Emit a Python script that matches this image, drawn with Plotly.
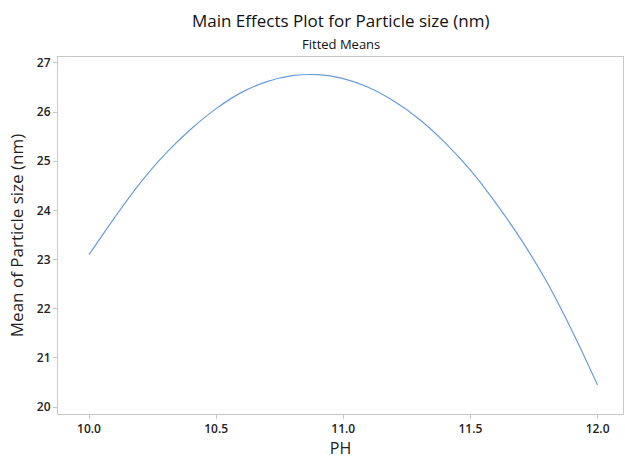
import plotly.graph_objects as go

ph = [10.0, 10.1, 10.2, 10.3, 10.4, 10.5, 10.6, 10.7, 10.8, 10.9, 11.0,
      11.1, 11.2, 11.3, 11.4, 11.5, 11.6, 11.7, 11.8, 11.9, 12.0]
mean_size = [23.10, 23.85, 24.55, 25.15, 25.65, 26.07, 26.40, 26.62, 26.74, 26.76, 26.68,
             26.50, 26.22, 25.85, 25.38, 24.82, 24.15, 23.40, 22.55, 21.55, 20.45]

x_ticks = [10.0, 10.5, 11.0, 11.5, 12.0]
x_ticklabels = ["10.0", "10.5", "11.0", "11.5", "12.0"]
y_ticks = [20, 21, 22, 23, 24, 25, 26, 27]

FONT = "Open Sans"

fig = go.Figure()
fig.add_trace(go.Scatter(x=ph, y=mean_size, mode="lines", line=dict(color="#6b9bd6", width=1.2, shape="spline"),
                         showlegend=False, hoverinfo="skip"))

fig.update_layout(
    width=625, height=459,
    margin=dict(l=58, r=2, t=57, b=45),
    paper_bgcolor="white", plot_bgcolor="white",
    font=dict(family=FONT, color="#222222"),
    annotations=[
        dict(text="Main Effects Plot for Particle size (nm)", x=0.5, y=1.0, xref="paper", yref="paper",
             yshift=23, xanchor="center", yanchor="bottom", showarrow=False,
             font=dict(family=FONT, size=17, color="#111111", weight=500)),
        dict(text="Fitted Means", x=0.5, y=1.0, xref="paper", yref="paper",
             yshift=2, xanchor="center", yanchor="bottom", showarrow=False,
             font=dict(family=FONT, size=13, color="#111111", weight=500)),
    ],
)
fig.update_xaxes(range=[9.878, 12.10], tickvals=x_ticks, ticktext=x_ticklabels,
                 showgrid=False, zeroline=False, showline=True, linecolor="#c8c8c8", linewidth=1, mirror=True,
                 ticks="outside", ticklen=4, tickcolor="#c8c8c8",
                 tickfont=dict(family=FONT, size=12, color="#222222", weight=600),
                 title=dict(text="PH", font=dict(family=FONT, size=16, color="#222222", weight=500), standoff=8))
fig.update_yaxes(range=[19.86, 27.12], tickvals=y_ticks,
                 showgrid=False, zeroline=False, showline=True, linecolor="#c8c8c8", linewidth=1, mirror=True,
                 ticks="outside", ticklen=4, tickcolor="#c8c8c8",
                 tickfont=dict(family=FONT, size=12, color="#222222", weight=600),
                 title=dict(text="Mean of Particle size (nm)", font=dict(family=FONT, size=17, color="#222222", weight=500), standoff=8))

fig.write_html("out.html")
